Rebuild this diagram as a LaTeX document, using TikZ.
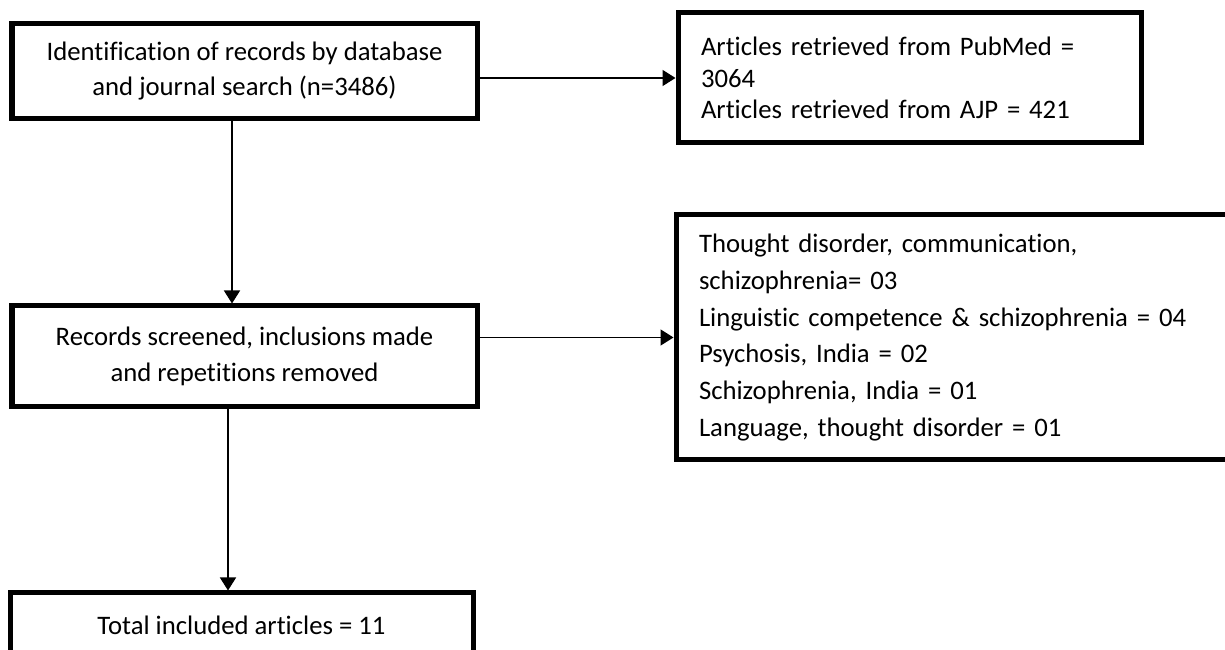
\documentclass[tikz,border=0pt]{standalone}
\usepackage{fontspec}
\setmainfont{Carlito}[Ligatures=NoCommon]
\usepackage{tikz}
\usetikzlibrary{arrows.meta,positioning,calc}

\begin{document}
\begin{tikzpicture}[
    stagebox/.style={draw, line width=0.1cm, align=center, inner sep=0pt,
        font=\fontsize{15.2}{20.4}\selectfont},
    listbox/.style={stagebox, align=left, inner xsep=0.46cm},
    flow/.style={-{Triangle[length=0.26cm,width=0.32cm]}, line width=0.03cm}
]
    \useasboundingbox (0,0) rectangle (24.5,-13);

    % Left column
    \node[stagebox, minimum width=9.3cm, minimum height=1.9cm] (ident) at (4.89,-1.42)
        {Identification of records by database\\and journal search (n=3486)};
    \node[stagebox, minimum width=9.3cm, minimum height=2.02cm] (screen) at (4.89,-7.13)
        {Records screened, inclusions made\\and repetitions removed};
    \node[stagebox, minimum width=9.26cm, minimum height=1.28cm] (total) at (4.83,-12.5)
        {Total included articles = 11};

    % Right column
    \node[listbox, text width=8.34cm, minimum height=2.6cm,
        font=\fontsize{15.2}{17.9}\selectfont] (retrieved) at (18.19,-1.56)
        {Articles retrieved from PubMed =\\3064\\Articles retrieved from AJP = 421};
    \node[listbox, text width=10.26cm, minimum height=4.9cm,
        font=\fontsize{15.2}{21}\selectfont] (included) at (19.11,-6.75)
        {Thought disorder, communication,\\schizophrenia= 03\\Linguistic competence \& schizophrenia = 04\\Psychosis, India = 02\\Schizophrenia, India = 01\\Language, thought disorder = 01};

    % Arrows
    \draw[flow] (ident.east |- retrieved.west) -- (retrieved.west);
    \draw[flow] (screen.east |- included.west) -- (included.west);
    \draw[flow] ([xshift=-0.25cm]ident.south) -- ([xshift=-0.25cm]ident.south |- screen.north);
    \draw[flow] ([xshift=-0.33cm]screen.south) -- ([xshift=-0.33cm]screen.south |- total.north);
\end{tikzpicture}
\end{document}
